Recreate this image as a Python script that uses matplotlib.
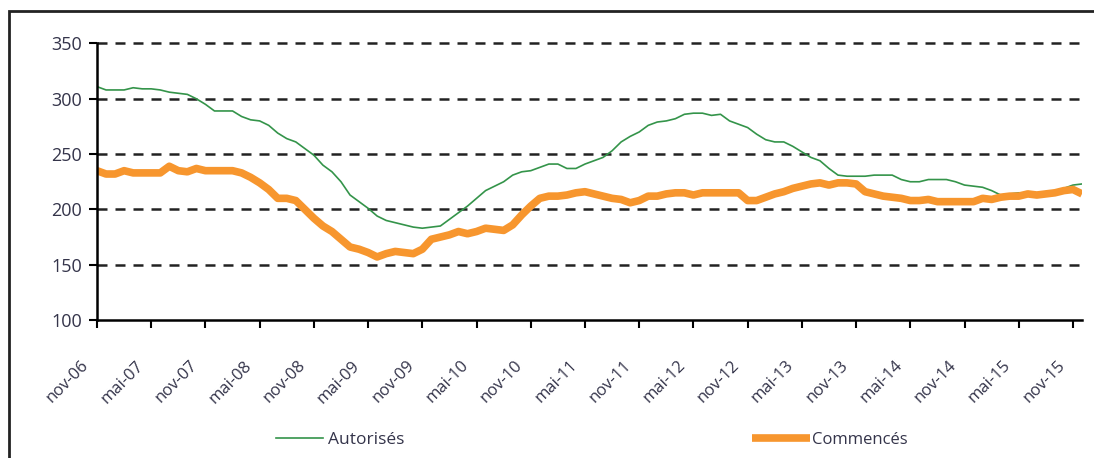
import matplotlib
matplotlib.use('Agg')
import matplotlib.pyplot as plt
from matplotlib.patches import Rectangle
from matplotlib.transforms import ScaledTranslation

# monthly values, nov-06 .. dec-15
autorises = [311, 308, 308, 308, 310, 309, 309, 308, 306, 305, 304, 300,
             295, 289, 289, 289, 284, 281, 280, 276, 269, 264, 261, 255,
             249, 240, 234, 225, 213, 207, 201, 194, 190, 188, 186, 184,
             183, 184, 185, 191, 197, 203, 210, 217, 221, 225, 231, 234,
             235, 238, 241, 241, 237, 237, 241, 244, 247, 253, 261, 266,
             270, 276, 279, 280, 282, 286, 287, 287, 285, 286, 280, 277,
             274, 268, 263, 261, 261, 257, 252, 247, 244, 237, 231, 230,
             230, 230, 231, 231, 231, 227, 225, 225, 227, 227, 227, 225,
             222, 221, 220, 217, 213, 214, 215, 215, 215, 216, 217, 219,
             222, 223]
commences = [235, 232, 232, 235, 233, 233, 233, 233, 239, 235, 234, 237,
             235, 235, 235, 235, 233, 229, 224, 218, 210, 210, 208, 200,
             192, 185, 180, 173, 166, 164, 161, 157, 160, 162, 161, 160,
             164, 173, 175, 177, 180, 178, 180, 183, 182, 181, 186, 195,
             203, 210, 212, 212, 213, 215, 216, 214, 212, 210, 209, 206,
             208, 212, 212, 214, 215, 215, 213, 215, 215, 215, 215, 215,
             208, 208, 211, 214, 216, 219, 221, 223, 224, 222, 224, 224,
             223, 216, 214, 212, 211, 210, 208, 208, 209, 207, 207, 207,
             207, 207, 210, 209, 211, 212, 212, 214, 213, 214, 215, 217,
             218, 214]
tick_labels = ['nov-06', 'mai-07', 'nov-07', 'mai-08', 'nov-08', 'mai-09',
               'nov-09', 'mai-10', 'nov-10', 'mai-11', 'nov-11', 'mai-12',
               'nov-12', 'mai-13', 'nov-13', 'mai-14', 'nov-14', 'mai-15',
               'nov-15']
y_ticks = [100, 150, 200, 250, 300, 350]

plt.rcParams['font.family'] = ['Open Sans', 'DejaVu Sans']
txt_color = '#34344a'

fig = plt.figure(figsize=(10.94, 4.58), dpi=100)
ax = fig.add_axes([97 / 1094, 1 - 320 / 458, (1082 - 97) / 1094, (320 - 43.5) / 458])

months = list(range(len(autorises)))
l1, = ax.plot(months, autorises, color='#34944a', lw=1.2)
l2, = ax.plot(months, commences, color='#f7962e', lw=5.5, solid_capstyle='butt')

ax.set_xlim(0, len(autorises) - 1)
ax.set_ylim(100, 350)
ax.set_yticks(y_ticks)
ax.set_xticks(range(0, 6 * len(tick_labels), 6))
ax.set_xticklabels(tick_labels, rotation=45, ha='right', va='top',
                   rotation_mode='anchor', color=txt_color, fontsize=12)
ax.tick_params(axis='y', labelsize=13, labelcolor=txt_color, direction='out',
               length=6, width=1.5, pad=5)
ax.tick_params(axis='x', direction='out', length=5.5, width=1.5, pad=10)
# push the rotated labels down and left like in the source
shift = ScaledTranslation(-16 / 100, -16 / 100, fig.dpi_scale_trans)
for t in ax.get_xticklabels():
    t.set_transform(t.get_transform() + shift)

for v in y_ticks[1:]:
    ax.axhline(v, color='#222222', lw=1.8, ls=(0, (4, 3.2)), zorder=0, clip_on=False)

for s in ['top', 'right']:
    ax.spines[s].set_visible(False)
for s in ['left', 'bottom']:
    ax.spines[s].set_linewidth(1.8)

fig.legend(handles=[l1], labels=['Autorisés'], loc='center left',
           bbox_to_anchor=(260 / 1094, 1 - 440 / 458), frameon=False,
           handlelength=2.7, handletextpad=0.3, fontsize=12.5, labelcolor=txt_color)
fig.legend(handles=[l2], labels=['Commencés'], loc='center left',
           bbox_to_anchor=(737 / 1094, 1 - 440 / 458), frameon=False,
           handlelength=3.5, handletextpad=0.1, fontsize=12, labelcolor=txt_color)

fig.patches.append(Rectangle((9 / 1094, -0.1), 1.2, 1 - 11 / 458 + 0.1,
                             transform=fig.transFigure, fill=False,
                             edgecolor='#222222', lw=2))

fig.savefig('out.png', dpi=100)
